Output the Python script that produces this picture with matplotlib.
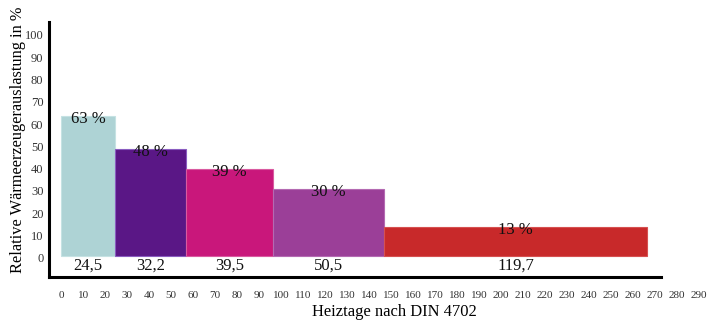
import numpy as np
import matplotlib
matplotlib.use('Agg')
import matplotlib.pyplot as plt

# heating days per segment and relative load
heiztage = [24.5, 32.2, 39.5, 50.5, 119.7]
auslastung = [63, 48, 39, 30, 13]
tage_labels = ['24,5', '32,2', '39,5', '50,5', '119,7']
prozent_labels = ['63 %', '48 %', '39 %', '30 %', '13 %']
colors = ['#aed3d5', '#5a1786', '#c9177b', '#9b3f98', '#c8292a']
edge_colors = ['#c5e2e3', '#8a5cc0', '#d95aa0', '#b46ab2', '#d65050']

plt.rcParams['font.family'] = ['Liberation Serif', 'DejaVu Serif']

fig = plt.figure(figsize=(7.28, 3.26), dpi=100)
ax = fig.add_axes([49 / 728, 49 / 326, 661 / 728, 255 / 326])

widths = np.array(heiztage)
lefts = np.concatenate([[0], np.cumsum(widths)[:-1]])
ax.bar(lefts, auslastung, width=widths, align='edge', color=colors,
       edgecolor=edge_colors, linewidth=0.8, bottom=0.8)

for l, w, h, pl, tl in zip(lefts, widths, auslastung, prozent_labels, tage_labels):
    ax.text(l + w / 2, h - 0.5, pl, ha='center', va='center', fontsize=12, color='#111111')
    ax.text(l + w / 2, -3.3, tl, ha='center', va='center', fontsize=12, color='#111111')

ax.set_xlim(-5.5, 295)
ax.set_ylim(-8.6, 105.8)
ax.set_xticks(np.arange(0, 300, 10))
ax.set_yticks(np.arange(0, 110, 10))
ax.tick_params(axis='both', length=0, labelcolor='#333333')
ax.tick_params(axis='x', pad=10, labelsize=8)
ax.tick_params(axis='y', pad=4, labelsize=9)

ax.spines['top'].set_visible(False)
ax.spines['right'].set_visible(False)
ax.spines['left'].set_linewidth(2.2)
ax.spines['bottom'].set_linewidth(2.2)
ax.spines['bottom'].set_bounds(-5.5, 272.6)

ax.set_xlabel('Heiztage nach DIN 4702', fontsize=11.9)
ax.xaxis.set_label_coords(0.523, -0.105)
ax.set_ylabel('Relative Wärmeerzeugerauslastung in %', fontsize=11.8)
ax.yaxis.set_label_coords(-0.035, 0.537)

fig.savefig('out.png', dpi=100)
